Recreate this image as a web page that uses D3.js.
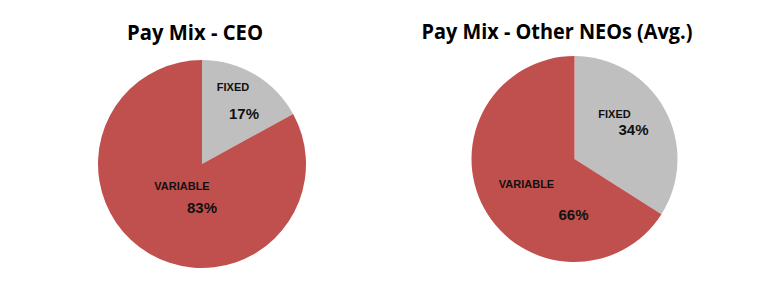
<!DOCTYPE html>
<html>
<head>
<meta charset="utf-8">
<script src="https://cdn.jsdelivr.net/npm/d3@7"></script>
<style>
  body { margin: 0; background: #fff; }
  .title { font-family: "Open Sans", sans-serif; font-weight: bold; fill: #000; }
  .cat { font-family: "Liberation Sans", Arial, sans-serif; font-weight: bold; font-size: 11px; fill: #111; }
  .pct { font-family: "Liberation Sans", Arial, sans-serif; font-weight: bold; font-size: 15px; fill: #111; }
</style>
</head>
<body>
<div id="chart"></div>
<script>
var categories = ["FIXED", "VARIABLE"],
  ceoValues = [17, 83],
  neoValues = [34, 66],
  titles = ["Pay Mix - CEO", "Pay Mix - Other NEOs (Avg.)"],
  color = ["#bfbfbf", "#c0504d"];

var w = 770, h = 283;

// per-chart layout: pie centre, radius, title spot and label offsets from centre
var charts = [
  { values: ceoValues, title: titles[0], cx: 202, cy: 164, r: 104,
    tx: 195, ty: 40, tw: 136,
    labels: [ { cx: 31, cy: -73, px: 42, py: -45 }, { cx: -20, cy: 26, px: 0, py: 49 } ] },
  { values: neoValues, title: titles[1], cx: 574.5, cy: 159, r: 103,
    tx: 557, ty: 39, tw: 271,
    labels: [ { cx: 40, cy: -41, px: 59, py: -24 }, { cx: -48, cy: 29, px: -1, py: 61 } ] }
];

var svg = d3.select("#chart").append("svg")
  .attr("width", w)
  .attr("height", h);

var pie = d3.pie().sort(null).value(function(d){ return d; });

charts.forEach(function(c){
  svg.append("text")
    .attr("class", "title")
    .attr("x", c.tx)
    .attr("y", c.ty)
    .attr("text-anchor", "middle")
    .attr("font-size", 21)
    .attr("textLength", c.tw)
    .attr("lengthAdjust", "spacingAndGlyphs")
    .text(c.title);

  var g = svg.append("g")
    .attr("transform", "translate(" + c.cx + "," + c.cy + ")");

  var arc = d3.arc().innerRadius(0).outerRadius(c.r);
  var arcs = pie(c.values);

  g.selectAll(".slice")
    .data(arcs).enter().append("path")
    .attr("class", "slice")
    .attr("d", arc)
    .style("fill", function(d, i){ return color[i]; });

  g.selectAll(".cat")
    .data(arcs).enter().append("text")
    .attr("class", "cat")
    .attr("x", function(d, i){ return c.labels[i].cx; })
    .attr("y", function(d, i){ return c.labels[i].cy; })
    .attr("text-anchor", "middle")
    .text(function(d, i){ return categories[i]; });

  g.selectAll(".pct")
    .data(arcs).enter().append("text")
    .attr("class", "pct")
    .attr("x", function(d, i){ return c.labels[i].px; })
    .attr("y", function(d, i){ return c.labels[i].py; })
    .attr("text-anchor", "middle")
    .text(function(d){ return d.value + "%"; });
});
</script>
</body>
</html>
